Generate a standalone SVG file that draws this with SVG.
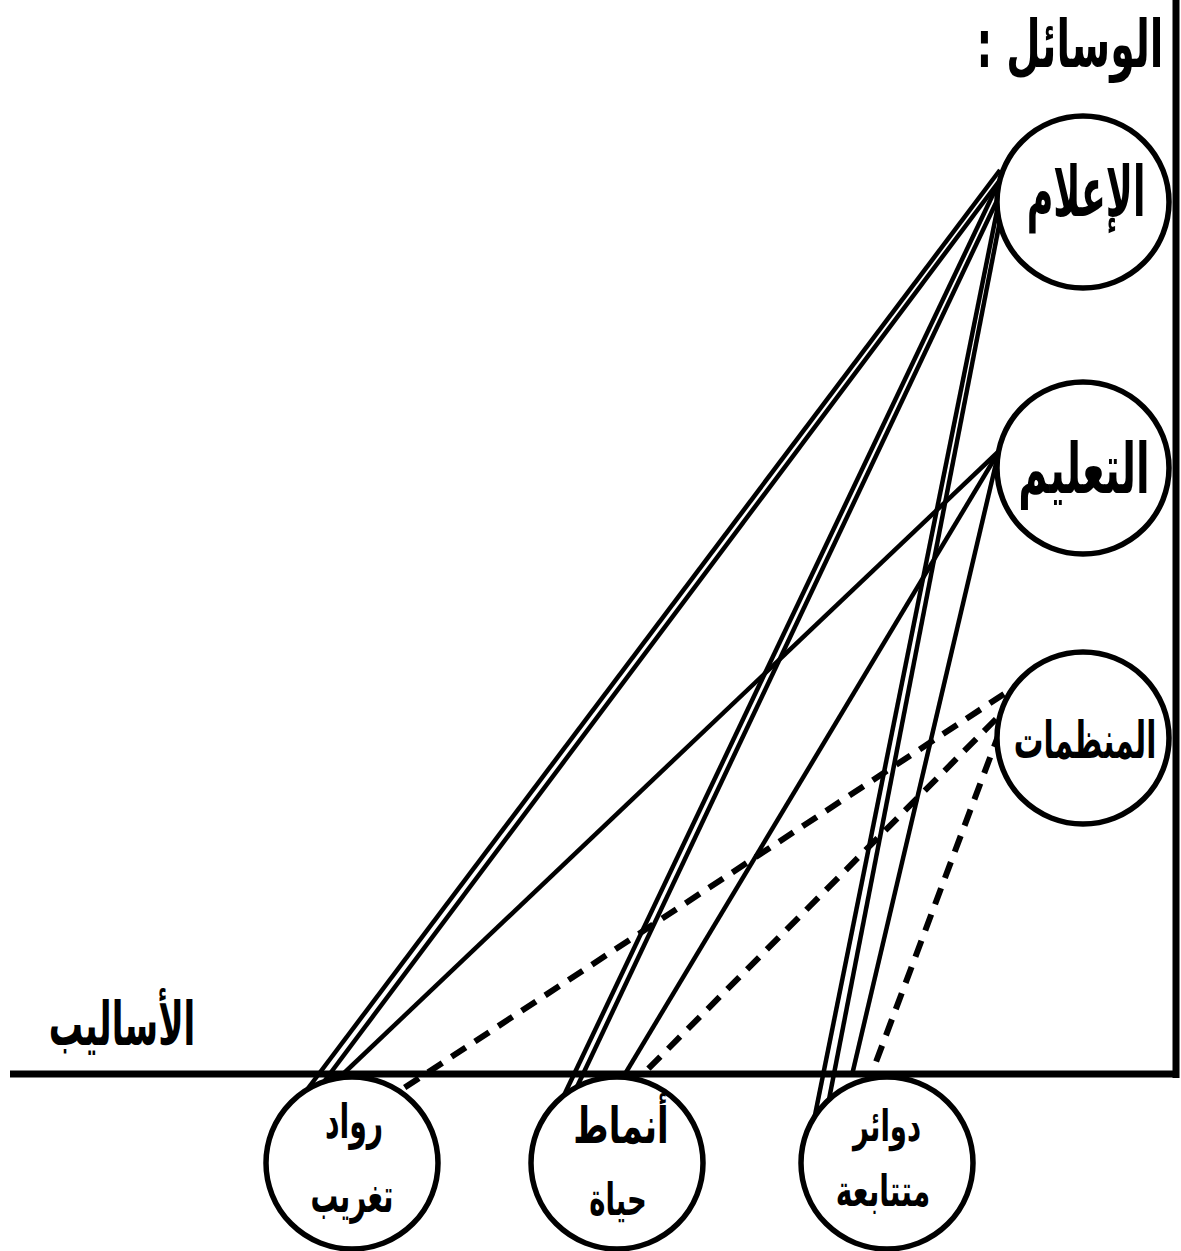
<svg xmlns="http://www.w3.org/2000/svg" width="1181" height="1251" viewBox="0 0 1181 1251">
<style>
.bg{fill:#ffffff}
.axis{stroke:#000;stroke-width:7;fill:none}
.solid{stroke:#000;stroke-width:4.5;fill:none;stroke-linecap:butt}
.dash{stroke:#000;stroke-width:6;fill:none;stroke-dasharray:17 11}
.node{fill:#fff;stroke:#000;stroke-width:5.5}
.t{font-family:"DejaVu Sans",sans-serif;font-weight:bold;fill:#000;text-anchor:middle}
</style>
<rect class="bg" x="0" y="0" width="1181" height="1251"/>
<g id="connectors">
  <line class="solid" x1="1000" y1="170" x2="303" y2="1095"/>
  <line class="solid" x1="1003" y1="176" x2="314" y2="1095"/>
  <line class="solid" x1="998" y1="184" x2="557" y2="1110"/>
  <line class="solid" x1="1002" y1="190" x2="566" y2="1110"/>
  <line class="solid" x1="1000" y1="196" x2="812" y2="1130"/>
  <line class="solid" x1="1004" y1="200" x2="825" y2="1120"/>
  <line class="solid" x1="998" y1="452" x2="342" y2="1075"/>
  <line class="solid" x1="998" y1="453" x2="625" y2="1074"/>
  <line class="solid" x1="998" y1="455" x2="852" y2="1075"/>
  <line class="dash" x1="1004" y1="694" x2="398" y2="1092"/>
  <line class="dash" x1="996" y1="719" x2="647" y2="1070"/>
  <line class="dash" x1="1000" y1="731" x2="873" y2="1070"/>
</g>
<g id="node-ilam"><circle class="node" cx="1083" cy="202" r="86"/><text class="t" transform="translate(1086,216) scale(0.52,1)" font-size="70">الإعلام</text></g>
<g id="node-taalim"><circle class="node" cx="1083" cy="468" r="86"/><text class="t" transform="translate(1084,493) scale(0.57,1)" font-size="70">التعليم</text></g>
<g id="node-munazamat"><circle class="node" cx="1083" cy="738" r="86"/><text class="t" transform="translate(1085,758) scale(0.58,1)" font-size="51">المنظمات</text></g>
<g id="node-ruwad"><circle class="node" cx="352" cy="1163" r="86"/><text class="t" transform="translate(354,1138) scale(0.59,1)" font-size="48">رواد</text><text class="t" transform="translate(352,1212) scale(0.59,1)" font-size="47">تغريب</text></g>
<g id="node-anmat"><circle class="node" cx="617" cy="1163" r="86"/><text class="t" transform="translate(621,1143) scale(0.68,1)" font-size="50">أنماط</text><text class="t" transform="translate(618,1215) scale(0.61,1)" font-size="45">حياة</text></g>
<g id="node-dawair"><circle class="node" cx="887" cy="1163" r="86"/><text class="t" transform="translate(887,1141) scale(0.64,1)" font-size="43">دوائر</text><text class="t" transform="translate(883,1206) scale(0.64,1)" font-size="44">متتابعة</text></g>
<g id="axes">
  <line class="axis" x1="1176" y1="0" x2="1176" y2="1078"/>
  <line class="axis" x1="10" y1="1074" x2="1179" y2="1074"/>
</g>
<g id="axis-labels">
  <text class="t" transform="translate(1070,67) scale(0.6,1)" font-size="66" direction="rtl">الوسائل :</text>
  <text class="t" transform="translate(122,1045) scale(0.57,1)" font-size="60">الأساليب</text>
</g>
</svg>
